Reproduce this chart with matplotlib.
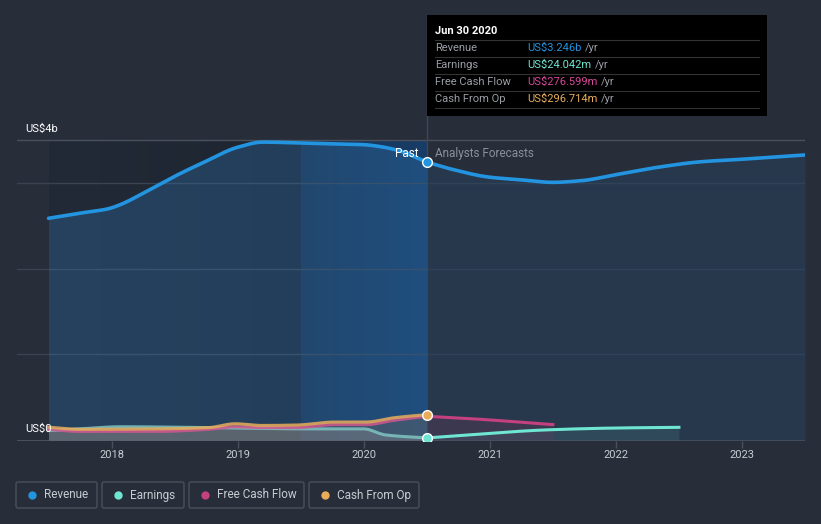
import matplotlib
matplotlib.use("Agg")
import matplotlib.pyplot as plt
import numpy as np
from matplotlib.patches import Rectangle, FancyBboxPatch
from matplotlib.colors import LinearSegmentedColormap

plt.rcParams['font.family'] = ['Roboto', 'DejaVu Sans']

# ---------------- data (US$ billions, x in fractional years) ----------------
rev_past_x = [2017.5, 2017.75, 2017.97, 2018.07, 2018.26, 2018.5, 2018.74, 2019.0, 2019.2, 2019.5, 2019.73, 2020.0, 2020.12, 2020.28, 2020.5]
rev_past_y = [2.59, 2.65, 2.70, 2.75, 2.89, 3.08, 3.25, 3.42, 3.48, 3.47, 3.46, 3.45, 3.43, 3.38, 3.246]
rev_fc_x = [2020.5, 2020.68, 2021.0, 2021.24, 2021.5, 2021.73, 2022.0, 2022.35, 2022.67, 2023.0, 2023.5]
rev_fc_y = [3.246, 3.17, 3.07, 3.04, 3.01, 3.03, 3.10, 3.19, 3.25, 3.28, 3.33]

earn_x = [2017.5, 2017.75, 2018.07, 2018.5, 2018.77, 2019.0, 2019.5, 2020.0, 2020.17, 2020.5]
earn_y = [0.11, 0.13, 0.155, 0.15, 0.145, 0.14, 0.13, 0.13, 0.06, 0.024]
earn_fc_x = [2020.5, 2020.9, 2021.43, 2022.0, 2022.5]
earn_fc_y = [0.024, 0.067, 0.117, 0.14, 0.148]

fcf_x = [2017.5, 2017.75, 2018.36, 2018.77, 2018.98, 2019.19, 2019.47, 2019.77, 2020.02, 2020.24, 2020.5]
fcf_y = [0.125, 0.10, 0.10, 0.125, 0.155, 0.145, 0.145, 0.18, 0.18, 0.23, 0.277]
fcf_fc_x = [2020.5, 2020.84, 2021.5]
fcf_fc_y = [0.277, 0.25, 0.18]

cfo_x = [2017.5, 2017.75, 2018.36, 2018.77, 2018.98, 2019.19, 2019.47, 2019.77, 2020.02, 2020.24, 2020.5]
cfo_y = [0.15, 0.125, 0.13, 0.145, 0.19, 0.17, 0.175, 0.21, 0.21, 0.26, 0.297]

tick_years = [2018, 2019, 2020, 2021, 2022, 2023]

tooltip_rows = [("Revenue", "US$3.246b", "#2394df"),
                ("Earnings", "US$24.042m", "#6ee6d2"),
                ("Free Cash Flow", "US$276.599m", "#d9479b"),
                ("Cash From Op", "US$296.714m", "#e8ad5a")]
legend_items = [("Revenue", "#2394df"), ("Earnings", "#6ee6d2"),
                ("Free Cash Flow", "#c4407f"), ("Cash From Op", "#e8ad5a")]

C_REV = "#2394df"
C_EARN = "#6ee6d2"
C_FCF = "#c4407f"
C_CFO = "#e8ad5a"
BG = "#272d39"


def pchip(x, y, n=200):
    x = np.asarray(x, float); y = np.asarray(y, float)
    h = np.diff(x); d = np.diff(y) / h
    m = np.zeros_like(y)
    for k in range(1, len(x) - 1):
        if d[k - 1] * d[k] > 0:
            w1 = 2 * h[k] + h[k - 1]; w2 = h[k] + 2 * h[k - 1]
            m[k] = (w1 + w2) / (w1 / d[k - 1] + w2 / d[k])
    m[0] = d[0]; m[-1] = d[-1]
    xs = np.linspace(x[0], x[-1], n)
    idx = np.clip(np.searchsorted(x, xs) - 1, 0, len(x) - 2)
    t = (xs - x[idx]) / h[idx]
    h00 = 2 * t**3 - 3 * t**2 + 1; h10 = t**3 - 2 * t**2 + t
    h01 = -2 * t**3 + 3 * t**2; h11 = t**3 - t**2
    ys = h00 * y[idx] + h10 * h[idx] * m[idx] + h01 * y[idx + 1] + h11 * h[idx] * m[idx + 1]
    return xs, ys


W, H = 821, 524
fig = plt.figure(figsize=(W / 100, H / 100), dpi=100)
fig.patch.set_facecolor(BG)

# axes mapping: x 17->805 px, y 15->441 px
x0p, x1p, y0p, y1p = 17, 805, 15, 441
ax = fig.add_axes([x0p / W, 1 - y1p / H, (x1p - x0p) / W, (y1p - y0p) / H])
ax.set_facecolor(BG)
XMIN, XMAX = 2017.25, 2023.5
PX_PER_B = 85.6
YMIN = -1 / PX_PER_B
YMAX = (440 - y0p) / PX_PER_B
for s in ax.spines.values():
    s.set_visible(False)

TOP = 3.5
# past region gradient background
grad = np.linspace(0, 1, 256).reshape(1, -1)
cm_past = LinearSegmentedColormap.from_list("p", ["#222a37", "#1e2531"])
ax.imshow(grad, extent=[2017.5, 2019.5, YMIN, TOP], aspect="auto", cmap=cm_past, zorder=0.5)
cm_hl = LinearSegmentedColormap.from_list("h", ["#1b3350", "#173d68"])
ax.imshow(grad, extent=[2019.5, 2020.5, YMIN, TOP], aspect="auto", cmap=cm_hl, zorder=0.5)
ax.set_xlim(XMIN, XMAX); ax.set_ylim(YMIN, YMAX)

# gridlines
for g in [1, 2, 3]:
    ax.axhline(g, color="#3a4352", lw=1, zorder=1)
ax.axhline(TOP, color="#4b515c", lw=1, zorder=1)
ax.axhline(YMIN + 0.001, color="#4b515c", lw=1.5, zorder=1)

# vertical hover line
ax.axvline(2020.5, color="#3d4656", lw=1, zorder=1.5)

# revenue
rx, ry = pchip(rev_past_x, rev_past_y)
fx, fy = pchip(rev_fc_x, rev_fc_y)
ax.fill_between(rx, 0, ry, color="#2f6fa8", alpha=0.35, lw=0, zorder=2)
ax.fill_between(fx, 0, fy, color="#27425e", alpha=0.55, lw=0, zorder=2)
ax.plot(rx, ry, color=C_REV, lw=2.6, zorder=5, solid_capstyle="round")
ax.plot(fx, fy, color=C_REV, lw=2.6, zorder=5, solid_capstyle="round")

# small series
ex, ey = pchip(earn_x, earn_y)
efx, efy = pchip(earn_fc_x, earn_fc_y)
px_, py_ = pchip(fcf_x, fcf_y)
pfx, pfy = pchip(fcf_fc_x, fcf_fc_y)
cx, cy = pchip(cfo_x, cfo_y)

ax.fill_between(cx, 0, cy, color="#7a6a60", alpha=0.35, lw=0, zorder=3)
ax.fill_between(ex, 0, ey, color="#8a8f95", alpha=0.35, lw=0, zorder=3)
ax.fill_between(efx, 0, efy, color="#4a7f85", alpha=0.25, lw=0, zorder=3)
ax.fill_between(pfx, 0, pfy, color="#6a3a5a", alpha=0.30, lw=0, zorder=3)

ax.plot(ex, ey, color="#7fc5c2", lw=2.2, zorder=6, alpha=0.85)
ax.plot(efx, efy, color=C_EARN, lw=2.2, zorder=6)
ax.plot(px_, py_, color="#d0588f", lw=2.2, zorder=6, alpha=0.85)
ax.plot(pfx, pfy, color=C_FCF, lw=2.2, zorder=6)
ax.plot(cx, cy, color=C_CFO, lw=2.2, zorder=7, alpha=0.85)

# markers at Jun 30 2020
ax.plot([2020.5], [rev_past_y[-1]], "o", ms=7, mfc=C_REV, mec="white", mew=1, zorder=9)
ax.plot([2020.5], [cfo_y[-1]], "o", ms=7, mfc=C_CFO, mec="white", mew=1, zorder=9)
ax.plot([2020.5], [earn_y[-1]], "o", ms=7, mfc=C_EARN, mec="white", mew=1, zorder=9)

# ticks
ax.set_xticks(tick_years)
ax.set_xticklabels([str(t) for t in tick_years])
ax.set_yticks([])
ax.tick_params(axis="x", colors="#4b515c", length=5, width=1, labelcolor="#c8ccd2", labelsize=8, pad=1.5)

ax.text(2020.5 - 0.065, 3.345, "Past", color="white", fontsize=8.5, ha="right", va="center", zorder=10)
ax.text(2020.5 + 0.065, 3.345, "Analysts Forecasts", color="#8b9099", fontsize=8.5, ha="left", va="center", zorder=10)

# overlay in pixel coords
ov = fig.add_axes([0, 0, 1, 1])
ov.set_xlim(0, W); ov.set_ylim(H, 0)
ov.axis("off")
ov.patch.set_alpha(0)

ov.text(25, 129, "US$4b", color="white", fontsize=8, va="center", ha="left")
ov.text(25, 429, "US$0", color="white", fontsize=8, va="center", ha="left")

# tooltip
ov.add_patch(Rectangle((427, 15), 340, 101, facecolor="black", edgecolor="none", zorder=20))
ov.text(435, 31, "Jun 30 2020", color="white", fontsize=8, fontweight="bold", va="center", zorder=21)
row_y = [48, 65, 82, 99]
for i, (lab, val, col) in enumerate(tooltip_rows):
    yy = row_y[i]
    ov.plot([435, 759], [yy - 8.5, yy - 8.5], color="#333333", lw=0.8, zorder=21)
    ov.text(435, yy, lab, color="#9a9ea5", fontsize=8, va="center", zorder=21)
    t = ov.text(527, yy, val, color=col, fontsize=8, va="center", zorder=21)
    fig.canvas.draw()
    bb = t.get_window_extent()
    ov.text(bb.x1 + 4, yy, "/yr", color="#9a9ea5", fontsize=8, va="center", zorder=21)
ov.plot([435, 759], [107.5, 107.5], color="#333333", lw=0.8, zorder=21)

# legend
boxes = [(16, 97), (102, 184), (189, 304), (309, 419)]
for (lab, col), (bx0, bx1) in zip(legend_items, boxes):
    ov.add_patch(FancyBboxPatch((bx0, 482), bx1 - bx0, 26, boxstyle="round,pad=0,rounding_size=2",
                                facecolor="none", edgecolor="#4b515c", lw=1))
    ov.plot([bx0 + 16], [495], "o", ms=6, color=col, mec="none")
    ov.text(bx0 + 28, 495, lab, color="#c8ccd2", fontsize=8.5, va="center")

fig.savefig("out.png", dpi=100, facecolor=BG)
